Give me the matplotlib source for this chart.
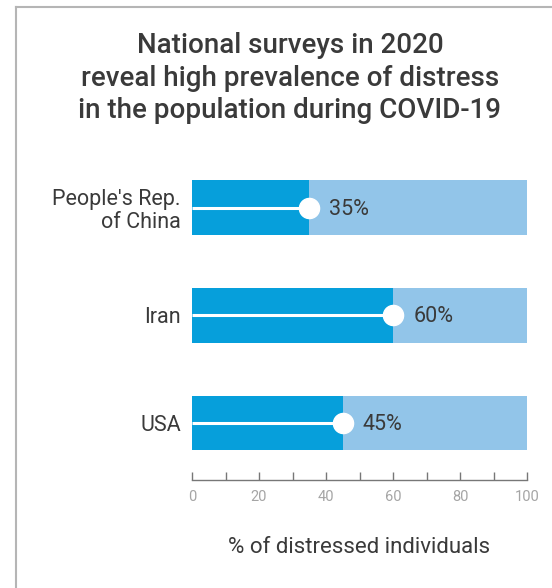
import matplotlib
matplotlib.use("Agg")
import matplotlib.pyplot as plt
from matplotlib.lines import Line2D

plt.rcParams['font.family'] = ['Roboto', 'DejaVu Sans']

countries = ["People's Rep.\nof China", "Iran", "USA"]
values = [35, 60, 45]
total = [100, 100, 100]
major_ticks = [0, 20, 40, 60, 80, 100]
minor_ticks = [10, 30, 50, 70, 90]
title = "National surveys in 2020\nreveal high prevalence of distress\nin the population during COVID-19"
xlabel = "% of distressed individuals"

dark = "#069fdb"
light = "#92c5e9"
text_c = "#3a3a3a"

fig = plt.figure(figsize=(5.52, 5.88), dpi=100)
ax = fig.add_axes([192/552, 1-480/588, (527-192)/552, (480-170)/588])

ypos = list(range(len(countries)))
ax.barh(ypos, total, height=0.51, color=light, zorder=1)
ax.barh(ypos, values, height=0.51, color=dark, zorder=2)
for y, v in zip(ypos, values):
    ax.plot([0, v], [y, y], color="white", lw=2.2, zorder=3, solid_capstyle='butt')
    ax.plot([v], [y], marker='o', ms=14.5, color="white", mec="white", zorder=4)
    ax.annotate(f"{v}%", (v, y), xytext=(14.5, -1), textcoords='offset points',
                va='center', ha='left', fontsize=15.5, color=text_c, zorder=5)

ax.set_xlim(0, 100)
ax.set_ylim(2.53, -0.352)
ax.set_yticks(ypos)
ax.set_yticklabels(countries, fontsize=15.5, color=text_c, ha='right', linespacing=1.1)
ax.tick_params(axis='y', length=0, pad=8)
ax.set_xticks(major_ticks)
ax.set_xticks(minor_ticks, minor=True)
ax.tick_params(axis='x', which='both', direction='in', length=6, width=1, color="#777777",
               labelsize=10.5, labelcolor="#a5a5a5", pad=7)
for s in ['top', 'right', 'left']:
    ax.spines[s].set_visible(False)
ax.spines['bottom'].set_color("#777777")
ax.spines['bottom'].set_linewidth(1)
ax.set_xlabel(xlabel, fontsize=16, color=text_c, labelpad=24)

fig.text(290/552, 1-78/588, title, ha='center', va='center', fontsize=20,
         fontweight='medium', color=text_c, linespacing=1.26)

# frame lines
fig.add_artist(Line2D([16/552, 16/552], [0, 1-7/588], transform=fig.transFigure, color="#b5b5b5", lw=1.5))
fig.add_artist(Line2D([16/552, 1], [1-7/588, 1-7/588], transform=fig.transFigure, color="#b5b5b5", lw=1.5))

fig.savefig("out.png", dpi=100)
